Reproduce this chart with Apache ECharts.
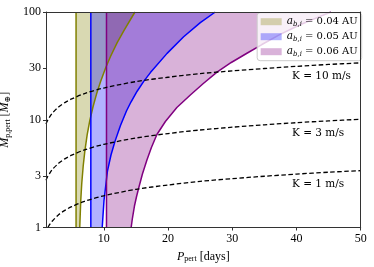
<!DOCTYPE html>
<html><head><meta charset="utf-8">
<script src="https://cdn.jsdelivr.net/npm/echarts@6/dist/echarts.min.js"></script>
<style>html,body{margin:0;padding:0;background:#fff}#c{width:374px;height:267px}</style>
</head><body><div id="c"></div>
<script>
// ---- data ----
const xTicks = [10, 20, 30, 40, 50];
const yTicks = [1, 3, 10, 30, 100];
const semiMajor = ['0.04', '0.05', '0.06'];          // a_{b,i} in AU
const leftPeriods = [5.68, 7.98, 10.42];              // vertical boundaries [days]

const olivePeriods = [6.255, 6.41, 6.566, 6.799, 7.047, 7.42, 7.824, 8.322, 8.866, 9.487, 10.264, 11.041, 12.082, 13.108, 14.849];
const oliveMasses  = [1, 1.78, 2.56, 3.76, 5.12, 7.33, 9.84, 13.2, 17.3, 22.5, 30.1, 38.6, 51.9, 66.9, 100];

const bluePeriods = [9.751, 10.031, 10.575, 11.119, 11.74, 12.595, 13.527, 14.226, 15.19, 16.216, 17.257, 19.852, 22.432, 25.027, 27.358];
const blueMasses  = [1, 1.78, 3.36, 4.71, 6.30, 8.85, 12.06, 14.61, 18.4, 22.7, 27.4, 41.3, 58.9, 79.7, 100];

const purplePeriods = [14.258, 14.46, 14.771, 15.082, 15.392, 16.014, 16.713, 17.413, 18.268, 19.588, 21.375, 23.473, 25.493, 27.622, 29.845, 32.284, 34.615, 37.459, 40.567, 43.675, 45.384];
const purpleMasses  = [1, 1.225, 1.583, 1.919, 2.277, 3.137, 4.23, 5.53, 7.30, 9.63, 13.0, 16.97, 21.7, 27.7, 34.0, 41.4, 49.9, 62.0, 76.1, 91.0, 100];

const kPeriods  = [1, 1.25, 1.5, 2, 3, 4, 5, 7, 10, 15, 20, 25, 30, 35, 40, 45, 50];
const k10Masses = [9.15, 9.86, 10.47, 11.53, 13.2, 14.5, 15.6, 17.5, 19.7, 22.6, 24.8, 26.8, 28.4, 29.9, 31.3, 32.6, 33.7];
const k3Masses  = [2.75, 2.96, 3.14, 3.46, 3.96, 4.36, 4.69, 5.25, 5.91, 6.77, 7.45, 8.03, 8.53, 8.98, 9.39, 9.76, 10.1];
const k1Periods = [1.31, 1.5, 2, 3, 4, 5, 7, 10, 15, 20, 25, 30, 35, 40, 45, 50];
const k1Masses  = [1.0, 1.05, 1.15, 1.32, 1.45, 1.56, 1.75, 1.97, 2.26, 2.48, 2.68, 2.84, 2.99, 3.13, 3.26, 3.37];
const kNames = ['K = 10 m/s', 'K = 3 m/s', 'K = 1 m/s'];

// ---- styling ----
const lineColors = ['#808000', '#0000ff', '#800080'];
const fillColors = ['rgba(128,128,0,0.3)', 'rgba(0,0,255,0.3)', 'rgba(128,0,128,0.3)'];
const SERIF = "'DejaVu Serif', serif";
const TICKF = "'Liberation Serif', 'DejaVu Serif', serif";

const zip = (a, b) => a.map((v, i) => [v, b[i]]);
const curves = [zip(olivePeriods, oliveMasses), zip(bluePeriods, blueMasses), zip(purplePeriods, purpleMasses)];

const series = [];
curves.forEach((curve, i) => {
  series.push({
    type: 'line', name: semiMajor[i], silent: true, showSymbol: false, symbol: 'none',
    data: [[leftPeriods[i], 1]].concat(curve),
    lineStyle: { width: 0, color: fillColors[i] },
    itemStyle: { color: fillColors[i] },
    areaStyle: { color: fillColors[i], opacity: 1, origin: 'end' },
    z: 2
  });
  series.push({
    type: 'line', name: 'curve' + i, silent: true, showSymbol: false, symbol: 'none',
    data: curve, lineStyle: { width: 1.5, color: lineColors[i] }, z: 3
  });
  series.push({
    type: 'line', name: 'left' + i, silent: true, showSymbol: false, symbol: 'none',
    data: [[leftPeriods[i], 1], [leftPeriods[i], 100]],
    lineStyle: { width: 1.5, color: lineColors[i] }, z: 3
  });
});

const kData = [zip(kPeriods, k10Masses), zip(kPeriods, k3Masses), zip(k1Periods, k1Masses)];
const kLabelAt = [[39.3, 25.2], [39.3, 7.55], [39.3, 2.53]];
kData.forEach((d, i) => {
  series.push({
    type: 'line', name: kNames[i], silent: true, showSymbol: false, symbol: 'none', smooth: 0.3,
    data: d, lineStyle: { width: 1.3, color: '#000', type: [4.5, 2.5] }, z: 4,
    markPoint: {
      symbol: 'circle', symbolSize: 0, silent: true,
      data: [{ coord: kLabelAt[i] }],
      label: { show: true, formatter: kNames[i], position: [0, 0], align: 'left', verticalAlign: 'middle',
               fontFamily: SERIF, fontSize: 10.5, color: '#000' }
    }
  });
});

const chart = echarts.init(document.getElementById('c'), null, { renderer: 'canvas' });
chart.setOption({
  animation: false,
  backgroundColor: '#fff',
  grid: { left: 46, right: 13.3, top: 12, bottom: 39.5, outerBoundsMode: 'none', containLabel: false },
  xAxis: [{
    type: 'value', min: 1, max: 50, z: 10,
    name: '{i|P}{s|pert} [days]', nameLocation: 'middle', nameGap: 19,
    nameTextStyle: { fontFamily: TICKF, fontSize: 12, color: '#000', lineHeight: 14,
      rich: { i: { fontStyle: 'italic', fontFamily: TICKF, fontSize: 12, lineHeight: 14 },
              s: { fontFamily: TICKF, fontSize: 8, lineHeight: 6, verticalAlign: 'bottom' } } },
    axisLine: { show: true, lineStyle: { color: '#333', width: 1 } },
    axisTick: { show: true, length: 3, customValues: xTicks, lineStyle: { color: '#333' } },
    axisLabel: { show: true, customValues: xTicks, margin: 5, fontFamily: TICKF, fontSize: 12, color: '#000' },
    splitLine: { show: false }
  }, {
    type: 'value', min: 1, max: 50, position: 'top', z: 10,
    axisLine: { show: true, onZero: false, lineStyle: { color: '#333', width: 1 } },
    axisTick: { show: false }, axisLabel: { show: false }, splitLine: { show: false }
  }],
  yAxis: [{
    type: 'log', logBase: 10, min: 1, max: 100, z: 10,
    name: '{i|M}{s|p,pert} [{i|M}{s|⊕}]', nameLocation: 'middle', nameGap: 23.5, nameRotate: 90,
    nameTextStyle: { fontFamily: TICKF, fontSize: 12, color: '#000', lineHeight: 14,
      rich: { i: { fontStyle: 'italic', fontFamily: TICKF, fontSize: 12, lineHeight: 14 },
              s: { fontFamily: TICKF, fontSize: 8, lineHeight: 6, verticalAlign: 'bottom' } } },
    axisLine: { show: true, onZero: false, lineStyle: { color: '#333', width: 1 } },
    axisTick: { show: true, length: 3, customValues: yTicks, lineStyle: { color: '#333' } },
    axisLabel: { show: true, customValues: yTicks, margin: 5, fontFamily: TICKF, fontSize: 12, color: '#000',
                 formatter: v => String(Math.round(v)) },
    minorTick: { show: false }, splitLine: { show: false }
  }, {
    type: 'log', logBase: 10, min: 1, max: 100, position: 'right', z: 10,
    axisLine: { show: true, onZero: false, lineStyle: { color: '#333', width: 1 } },
    axisTick: { show: false }, axisLabel: { show: false }, splitLine: { show: false }
  }],
  legend: {
    data: semiMajor.map((n, i) => ({ name: n, icon: 'rect', itemStyle: { color: fillColors[i], borderWidth: 0 } })),
    orient: 'vertical', right: 12.3, top: 12.7,
    itemWidth: 21, itemHeight: 7, itemGap: 3,
    padding: [3, 4, 3, 3.5],
    backgroundColor: 'rgba(255,255,255,0.8)', borderColor: '#cccccc', borderWidth: 1, borderRadius: 3,
    selectedMode: false,
    formatter: n => '{a|a}{s|b,i}{t| = ' + n + ' AU}',
    textStyle: { color: '#000', fontFamily: SERIF, fontSize: 10, lineHeight: 12,
      rich: { a: { fontStyle: 'italic', fontFamily: SERIF, fontSize: 10.5, lineHeight: 12 },
              s: { fontStyle: 'italic', fontFamily: SERIF, fontSize: 7, lineHeight: 5, verticalAlign: 'bottom' },
              t: { fontFamily: SERIF, fontSize: 10, lineHeight: 12 } } }
  },
  series: series
});
</script>
</body></html>
